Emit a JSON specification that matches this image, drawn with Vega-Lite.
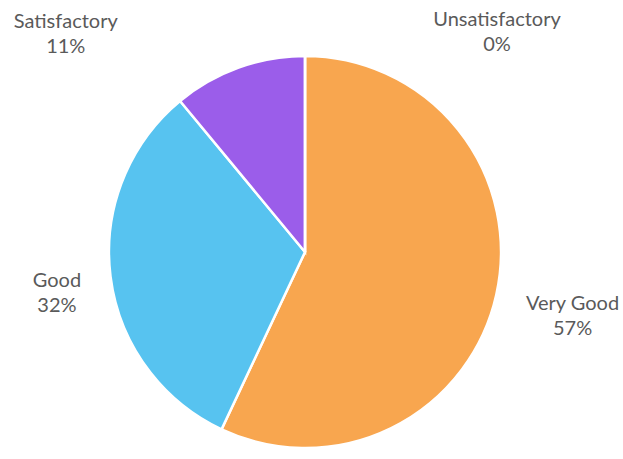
{
  "$schema": "https://vega.github.io/schema/vega-lite/v6.json",
  "autosize": "none",
  "width": 610,
  "height": 414,
  "padding": {"left": 0, "right": 13, "top": 45, "bottom": 0},
  "background": "white",
  "view": {"stroke": null},
  "data": {
    "values": [
      {"category": "Very Good", "pct": 57, "rank": 1},
      {"category": "Good", "pct": 32, "rank": 2},
      {"category": "Satisfactory", "pct": 11, "rank": 3},
      {"category": "Unsatisfactory", "pct": 0, "rank": 4}
    ]
  },
  "transform": [
    {"calculate": "datum.category + '\\n' + datum.pct + '%'", "as": "label"}
  ],
  "encoding": {
    "theta": {"field": "pct", "type": "quantitative", "stack": true},
    "order": {"field": "rank", "type": "quantitative", "sort": "ascending"}
  },
  "layer": [
    {
      "mark": {"type": "arc", "outerRadius": 196, "stroke": "white", "strokeWidth": 2.5},
      "encoding": {
        "color": {
          "field": "category",
          "type": "nominal",
          "scale": {
            "domain": ["Very Good", "Good", "Satisfactory", "Unsatisfactory"],
            "range": ["#F8A64F", "#57C3F0", "#9B5DEA", "#5B7BD5"]
          },
          "legend": null
        }
      }
    },
    {
      "mark": {"type": "text", "radius": 268, "dy": -6, "dx": 6, "font": "Lato", "fontSize": 20, "color": "#5a5a5a", "lineBreak": "\n", "lineHeight": 25, "baseline": "middle", "align": "center"},
      "encoding": {"text": {"condition": {"test": "datum.category === 'Very Good'", "field": "label"}, "value": ""}}
    },
    {
      "mark": {"type": "text", "radius": 248, "dy": -2, "dx": -2, "font": "Lato", "fontSize": 20, "color": "#5a5a5a", "lineBreak": "\n", "lineHeight": 25, "baseline": "middle", "align": "center"},
      "encoding": {"text": {"condition": {"test": "datum.category === 'Good'", "field": "label"}, "value": ""}}
    },
    {
      "mark": {"type": "text", "radius": 231, "dx": -161, "dy": -13, "font": "Lato", "fontSize": 20, "color": "#5a5a5a", "lineBreak": "\n", "lineHeight": 25, "baseline": "middle", "align": "center"},
      "encoding": {"text": {"condition": {"test": "datum.category === 'Satisfactory'", "field": "label"}, "value": ""}}
    },
    {
      "mark": {"type": "text", "radius": 219, "dx": 192, "dy": -13, "font": "Lato", "fontSize": 20, "color": "#5a5a5a", "lineBreak": "\n", "lineHeight": 25, "baseline": "middle", "align": "center"},
      "encoding": {"text": {"condition": {"test": "datum.category === 'Unsatisfactory'", "field": "label"}, "value": ""}}
    }
  ]
}
